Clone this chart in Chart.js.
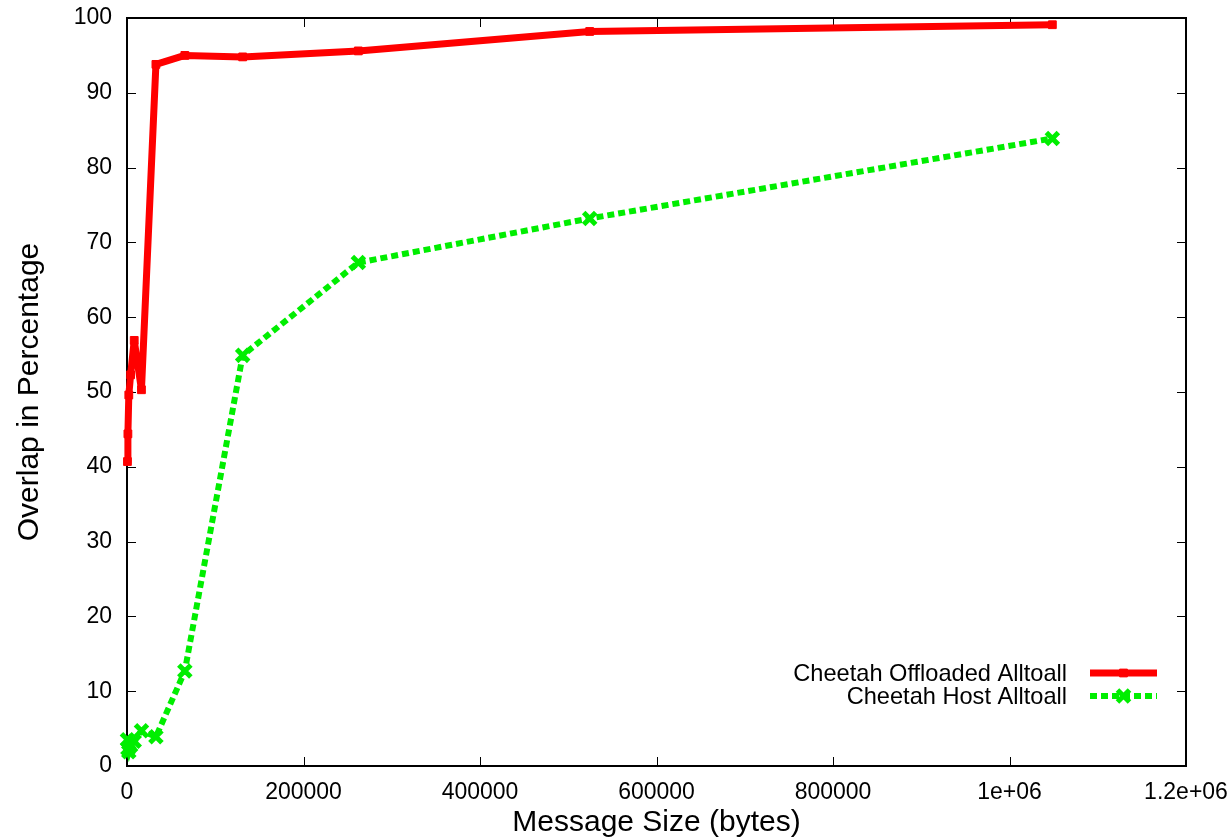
<!DOCTYPE html>
<html>
<head>
<meta charset="utf-8">
<script src="https://cdn.jsdelivr.net/npm/chart.js@4.4.1/dist/chart.umd.min.js"></script>
<style>
  html, body { margin: 0; padding: 0; background: #ffffff; }
  canvas { display: block; }
</style>
</head>
<body>
<canvas id="c" width="1232" height="838"></canvas>
<script>
// ---- data ----
const messageSizes = [512, 1024, 2048, 4096, 8192, 16384, 32768, 65536, 131072, 262144, 524288, 1048576];
const offloadedOverlap = [40.7, 44.4, 49.6, 52.3, 56.9, 50.3, 93.8, 95.0, 94.8, 95.6, 98.2, 99.1];
const hostOverlap = [3.5, 2.3, 1.9, 2.7, 3.3, 4.7, 3.9, 12.7, 54.9, 67.3, 73.2, 83.9];
const seriesNames = ['Cheetah Offloaded Alltoall', 'Cheetah Host Alltoall'];
const xTickLabels = ['0', '200000', '400000', '600000', '800000', '1e+06', '1.2e+06'];
const yTickLabels = ['0', '10', '20', '30', '40', '50', '60', '70', '80', '90', '100'];
const xTitle = 'Message Size (bytes)';
const yTitle = 'Overlap in Percentage';

const FONT = '"Liberation Sans", Arial, Helvetica, sans-serif';
const RED = '#ff0000';
const GREEN = '#00ee00';

function toPoints(xs, ys) { return xs.map((x, i) => ({ x: x, y: ys[i] })); }

// frame + inward ticks on all four sides (gnuplot style)
const framePlugin = {
  id: 'frame',
  beforeDatasetsDraw(chart) {
    const { ctx, chartArea: a, scales } = chart;
    ctx.save();
    ctx.strokeStyle = '#000';
    ctx.lineWidth = 1;
    const tl = 9;
    scales.x.ticks.forEach(t => {
      const px = Math.round(scales.x.getPixelForValue(t.value)) + 0.5;
      ctx.beginPath();
      ctx.moveTo(px, a.bottom); ctx.lineTo(px, a.bottom - tl);
      ctx.moveTo(px, a.top); ctx.lineTo(px, a.top + tl);
      ctx.stroke();
    });
    scales.y.ticks.forEach(t => {
      const py = Math.round(scales.y.getPixelForValue(t.value)) + 0.5;
      ctx.beginPath();
      ctx.moveTo(a.left, py); ctx.lineTo(a.left + tl, py);
      ctx.moveTo(a.right, py); ctx.lineTo(a.right - tl, py);
      ctx.stroke();
    });
    ctx.lineWidth = 2;
    ctx.strokeRect(a.left, a.top, a.right - a.left, a.bottom - a.top);
    ctx.restore();
  }
};

// legend drawn inside the plot, bottom right, text left of sample
const legendPlugin = {
  id: 'gpLegend',
  afterDraw(chart) {
    const { ctx } = chart;
    const textRight = 1067, x0 = 1090, x1 = 1157, ys = [673, 696];
    ctx.save();
    ctx.font = '23.6px ' + FONT;
    ctx.textAlign = 'right';
    ctx.textBaseline = 'middle';
    chart.data.datasets.forEach((ds, i) => {
      const y = ys[i];
      ctx.fillStyle = '#000';
      ctx.fillText(ds.label, textRight, y + 1);
      ctx.strokeStyle = ds.borderColor;
      ctx.lineWidth = ds.borderWidth;
      ctx.lineCap = 'butt';
      ctx.setLineDash(ds.borderDash || []);
      ctx.beginPath(); ctx.moveTo(x0, y); ctx.lineTo(x1, y); ctx.stroke();
      ctx.setLineDash([]);
      ctx.fillStyle = ds.borderColor;
      ctx.strokeStyle = ds.borderColor;
      ctx.lineWidth = ds.pointBorderWidth;
      Chart.helpers.drawPoint(ctx, {
        pointStyle: ds.pointStyle, radius: ds.pointRadius, borderWidth: ds.pointBorderWidth
      }, (x0 + x1) / 2, y);
    });
    ctx.restore();
  }
};

function noPad(s) { s.paddingTop = 0; s.paddingBottom = 0; s.paddingLeft = 0; s.paddingRight = 0; }

const chart = new Chart(document.getElementById('c'), {
  type: 'line',
  data: {
    datasets: [
      {
        label: seriesNames[0],
        data: toPoints(messageSizes, offloadedOverlap),
        borderColor: RED,
        backgroundColor: RED,
        borderWidth: 7,
        borderJoinStyle: 'round',
        pointStyle: 'rect',
        pointRadius: 5.5,
        pointBorderWidth: 1,
        pointBackgroundColor: RED,
        pointBorderColor: RED,
        tension: 0,
        clip: false
      },
      {
        label: seriesNames[1],
        data: toPoints(messageSizes, hostOverlap),
        borderColor: GREEN,
        backgroundColor: GREEN,
        borderWidth: 6,
        borderDash: [7, 4],
        borderCapStyle: 'butt',
        pointStyle: 'crossRot',
        pointRadius: 8.5,
        pointBorderWidth: 5,
        pointBackgroundColor: GREEN,
        pointBorderColor: GREEN,
        tension: 0,
        clip: false
      }
    ]
  },
  options: {
    responsive: false,
    animation: false,
    devicePixelRatio: 1,
    layout: { padding: { top: 18, right: 46, left: 0, bottom: 0 } },
    plugins: { legend: { display: false }, tooltip: { enabled: false } },
    scales: {
      x: {
        type: 'linear',
        min: 0, max: 1200000,
        grid: { display: false, drawTicks: false },
        border: { display: false },
        ticks: {
          stepSize: 200000, autoSkip: false, maxRotation: 0,
          color: '#000', padding: 13,
          font: { family: FONT, size: 23 },
          callback: (v, i) => xTickLabels[i]
        },
        title: {
          display: true, text: xTitle, color: '#000',
          font: { family: FONT, size: 30 }, padding: { top: 0, bottom: -3 }
        },
        afterFit: s => { s.height = 72; noPad(s); }
      },
      y: {
        type: 'linear',
        min: 0, max: 100,
        grid: { display: false, drawTicks: false },
        border: { display: false },
        ticks: {
          stepSize: 10, autoSkip: false,
          color: '#000', padding: 15,
          font: { family: FONT, size: 23 },
          callback: (v, i) => yTickLabels[i]
        },
        title: {
          display: true, text: yTitle, color: '#000',
          font: { family: FONT, size: 30 }, padding: { top: 12, bottom: 0 }
        },
        afterFit: s => { s.width = 127; noPad(s); }
      }
    }
  },
  plugins: [framePlugin, legendPlugin]
});
</script>
</body>
</html>
